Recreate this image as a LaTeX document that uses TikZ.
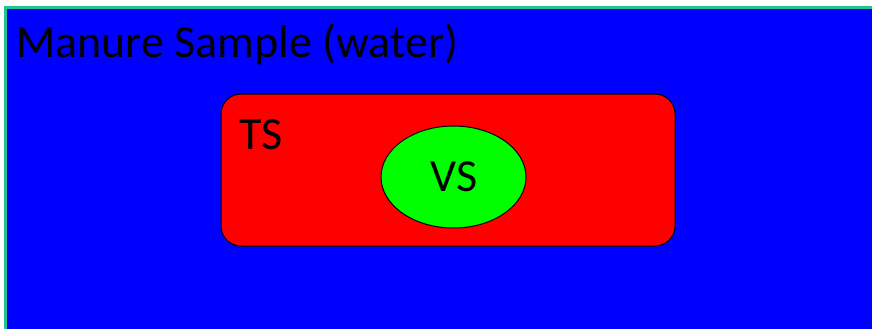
\documentclass[tikz,border=0pt]{standalone}
\usepackage{fontspec}
\setmainfont{Carlito}
\usetikzlibrary{shapes.geometric}
\definecolor{outerline}{HTML}{22C496}
\tikzset{
  lbl/.style={inner sep=0pt, font=\fontsize{46}{52}\selectfont, text=black},
  tsbox/.style={draw=black, line width=1pt, fill=red, rounded corners=20pt},
  vsell/.style={ellipse, draw=black, line width=1pt, fill=green, inner sep=0pt}
}
\begin{document}
\begin{tikzpicture}[x=1pt,y=-1pt]
\useasboundingbox (0,0) rectangle (872,329);
\clip (0,0) rectangle (872,329);
\fill[white] (0,0) rectangle (872,329);
\draw[draw=outerline, line width=3pt, fill=blue] (5.5,7.5) rectangle (890,350);
\node[lbl, anchor=base west] (manure) at (16,57) {Manure Sample (water)};
\draw[tsbox] (221,94) rectangle (675,246);
\node[lbl, anchor=base west] (ts) at (239,149) {TS};
\node[vsell, minimum width=145pt, minimum height=102pt] (vs) at (453.5,177) {};
\node[lbl, anchor=base] (vslbl) at (454,191) {VS};
\end{tikzpicture}
\end{document}
